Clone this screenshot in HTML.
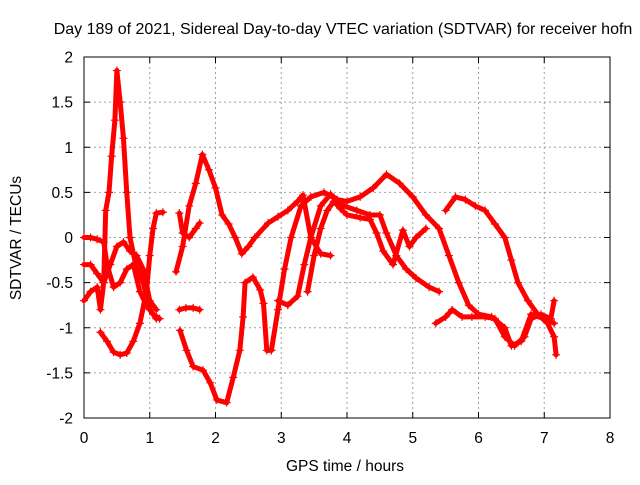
<!DOCTYPE html>
<html><head><meta charset="utf-8"><style>
body{margin:0;background:#fff;font-family:"Liberation Sans",sans-serif}
svg text{font-family:"Liberation Sans",sans-serif;font-size:15.5px;fill:#000}
</style></head><body>
<svg id="chart" width="640" height="480" viewBox="0 0 640 480" xmlns="http://www.w3.org/2000/svg">
<rect width="640" height="480" fill="#fff"/>
<text x="343" y="34" text-anchor="middle" style="font-size:16px">Day 189 of 2021, Sidereal Day-to-day VTEC variation (SDTVAR) for receiver hofn</text>
<text transform="translate(21,238) rotate(-90)" text-anchor="middle">SDTVAR / TECUs</text>
<text x="345" y="471" text-anchor="middle">GPS time / hours</text>
<g id="grid"></g><g id="axes"></g><g id="series"></g>
</svg>
<script>
const xTicks=[0,1,2,3,4,5,6,7,8];
const yTicks=[-2,-1.5,-1,-0.5,0,0.5,1,1.5,2];
const yTickLabels=["-2","-1.5","-1","-0.5","0","0.5","1","1.5","2"];
const t1=[[0.0,-0.7],[0.1,-0.6],[0.2,-0.55],[0.25,-0.8],[0.3,-0.5],[0.33,0.3],[0.38,0.5],[0.42,0.9],[0.47,1.3],[0.5,1.85],[0.55,1.5],[0.6,1.1],[0.65,0.5],[0.7,0.0],[0.78,-0.28],[0.9,-0.5],[1.0,-0.8],[1.1,-0.9]];
const t2=[[0.0,0.0],[0.1,0.0],[0.2,-0.02],[0.3,-0.05],[0.35,-0.3],[0.45,-0.55],[0.55,-0.5],[0.65,-0.35],[0.75,-0.3],[0.85,-0.6],[0.95,-0.75],[1.05,-0.85],[1.15,-0.9]];
const t3=[[0.0,-0.3],[0.1,-0.3],[0.2,-0.4],[0.3,-0.5],[0.4,-0.3],[0.5,-0.1],[0.6,-0.05],[0.7,-0.15],[0.8,-0.2],[0.9,-0.35],[1.0,-0.7],[1.1,-0.8]];
const t4=[[0.25,-1.05],[0.35,-1.15],[0.45,-1.27],[0.55,-1.3],[0.65,-1.28],[0.75,-1.15],[0.85,-0.95],[0.95,-0.6],[1.0,-0.2],[1.05,0.1],[1.1,0.27],[1.2,0.28]];
const t5=[[1.4,-0.38],[1.5,-0.1],[1.6,0.35],[1.7,0.6],[1.8,0.92],[1.9,0.75],[2.0,0.55],[2.1,0.25],[2.2,0.15],[2.3,0.0],[2.4,-0.18],[2.5,-0.1],[2.6,0.0],[2.8,0.16],[2.95,0.23],[3.1,0.3],[3.25,0.4],[3.33,0.47],[3.45,0.0],[3.6,-0.18],[3.75,-0.2]];
const t5b=[[1.45,0.27],[1.5,0.05],[1.6,0.0],[1.7,0.1],[1.76,0.16]];
const t7=[[1.45,-0.8],[1.55,-0.78],[1.66,-0.78],[1.76,-0.8]];
const t8=[[1.46,-1.03],[1.56,-1.25],[1.66,-1.43],[1.81,-1.47],[1.92,-1.61],[2.02,-1.8],[2.17,-1.83],[2.27,-1.55],[2.37,-1.25],[2.42,-0.88],[2.45,-0.5],[2.57,-0.44],[2.68,-0.58],[2.73,-0.73],[2.78,-1.25],[2.85,-1.25]];
const ta=[[2.85,-1.25],[2.95,-0.8],[3.05,-0.35],[3.15,0.0],[3.3,0.35],[3.45,0.45],[3.65,0.5],[3.85,0.42],[4.0,0.4],[4.2,0.45],[4.4,0.55],[4.6,0.7],[4.8,0.6],[5.0,0.45],[5.2,0.25],[5.4,0.1],[5.55,-0.2],[5.7,-0.5],[5.85,-0.75],[6.0,-0.85],[6.2,-0.88],[6.4,-1.0],[6.5,-1.2],[6.65,-1.15],[6.8,-0.85],[7.0,-0.9],[7.15,-0.95]];
const tb=[[2.95,-0.7],[3.1,-0.75],[3.25,-0.65],[3.35,-0.3],[3.45,0.0],[3.6,0.35],[3.75,0.48],[3.95,0.35],[4.15,0.3],[4.35,0.25],[4.5,0.25],[4.6,0.05],[4.75,-0.2],[4.9,-0.35],[5.05,-0.45],[5.25,-0.55],[5.4,-0.6]];
const tc=[[3.4,-0.6],[3.5,-0.2],[3.6,0.1],[3.7,0.3],[3.8,0.4],[3.9,0.32],[4.0,0.25],[4.2,0.22],[4.35,0.2],[4.45,0.05],[4.55,-0.15],[4.7,-0.3],[4.85,0.08],[4.95,-0.1],[5.05,0.0],[5.2,0.1]];
const td=[[5.35,-0.95],[5.5,-0.88],[5.6,-0.8],[5.75,-0.88],[5.9,-0.88],[6.1,-0.88],[6.25,-0.9],[6.4,-1.1],[6.55,-1.2],[6.7,-1.1],[6.8,-0.9],[6.95,-0.85],[7.1,-0.9],[7.15,-0.7]];
const te=[[5.5,0.3],[5.65,0.45],[5.8,0.42],[5.95,0.35],[6.1,0.3],[6.25,0.15],[6.4,0.0],[6.5,-0.25],[6.6,-0.5],[6.75,-0.7],[6.9,-0.85],[7.05,-0.95],[7.15,-1.1],[7.18,-1.3]];
const tracks=[t1,t2,t3,t4,t5,t5b,t7,t8,ta,tb,tc,td,te];
const X0=84,X1=610,Y0=418,Y1=57;
const xs=h=>X0+(h-0)/(8-0)*(X1-X0);
const ys=v=>Y0-(v+2)/4*(Y0-Y1);
const NS="http://www.w3.org/2000/svg";
function mk(tag,attrs,parent){const e=document.createElementNS(NS,tag);for(const k in attrs)e.setAttribute(k,attrs[k]);parent.appendChild(e);return e;}
const grid=document.getElementById('grid'),axes=document.getElementById('axes'),ser=document.getElementById('series');
xTicks.forEach((t,i)=>{const x=xs(t);
 if(i>0&&i<xTicks.length-1){const g=mk('line',{x1:x,x2:x,y1:Y1,y2:Y0,stroke:'#a0a0a0','stroke-dasharray':'2,3'},grid);
 
 }
 mk('line',{x1:x,x2:x,y1:Y0,y2:Y0-6,stroke:'#000'},axes);mk('line',{x1:x,x2:x,y1:Y1,y2:Y1+6,stroke:'#000'},axes);
 const l=mk('text',{x:x,y:443,'text-anchor':'middle'},axes);l.textContent=String(t);
 
 });
yTicks.forEach((t,i)=>{const y=ys(t);
 if(i>0&&i<yTicks.length-1){const g=mk('line',{x1:X0,x2:X1,y1:y,y2:y,stroke:'#a0a0a0','stroke-dasharray':'2,3'},grid);
 
 }
 mk('line',{x1:X0,x2:X0+6,y1:y,y2:y,stroke:'#000'},axes);mk('line',{x1:X1,x2:X1-6,y1:y,y2:y,stroke:'#000'},axes);
 const l=mk('text',{x:73,y:y+5.5,'text-anchor':'end'},axes);l.textContent=yTickLabels[i];
 
 });
const fr=mk('rect',{x:X0,y:Y1,width:X1-X0,height:Y0-Y1,fill:'none',stroke:'#000'},axes);


tracks.forEach(tr=>{
 const p=mk('polyline',{points:tr.map(d=>xs(d[0])+','+ys(d[1])).join(' '),fill:'none',stroke:'#ff0000','stroke-width':5,'stroke-linejoin':'round','stroke-linecap':'round'},ser);
 
 
 tr.forEach(d=>{const x=xs(d[0]),y=ys(d[1]);
  const m=mk('path',{d:`M${x-4},${y}H${x+4}M${x},${y-4}V${y+4}`,stroke:'#ff0000','stroke-width':1.2},ser);
  
  });
});
</script>
</body></html>
